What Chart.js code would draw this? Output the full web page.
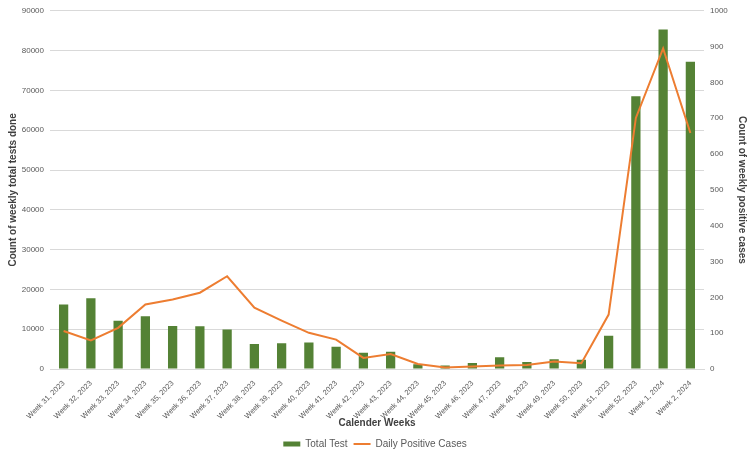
<!DOCTYPE html>
<html>
<head>
<meta charset="utf-8">
<script src="https://cdn.jsdelivr.net/npm/chart.js@4/dist/chart.umd.min.js"></script>
<style>
  html, body { margin: 0; padding: 0; background: #ffffff; }
  #wrap { width: 750px; height: 459px; }
</style>
</head>
<body>
<div id="wrap"><canvas id="grafico" width="750" height="459"></canvas></div>
<script>
// dados
const semanas = [
  "Week 31, 2023", "Week 32, 2023", "Week 33, 2023", "Week 34, 2023",
  "Week 35, 2023", "Week 36, 2023", "Week 37, 2023", "Week 38, 2023",
  "Week 39, 2023", "Week 40, 2023", "Week 41, 2023", "Week 42, 2023",
  "Week 43, 2023", "Week 44, 2023", "Week 45, 2023", "Week 46, 2023",
  "Week 47, 2023", "Week 48, 2023", "Week 49, 2023", "Week 50, 2023",
  "Week 51, 2023", "Week 52, 2023", "Week 1, 2024", "Week 2, 2024"
];
const totalTestes = [
  16200, 17800, 12100, 13250, 10800, 10750, 9900, 6300,
  6500, 6650, 5600, 4100, 4350, 1200, 850, 1500,
  2950, 1750, 2450, 2350, 8350, 68500, 85300, 77200
];
const casosPositivos = [
  106, 80, 115, 180, 194, 213, 259, 171,
  135, 101, 82, 31, 42, 14, 4, 7,
  10, 11, 21, 16, 152, 701, 895, 659
];

const FONTE = "'Liberation Sans', Arial, sans-serif";
const CINZA_TXT = "#595959";
const CINZA_TIT = "#404040";
const VERDE = "#548235";
const LARANJA = "#ED7D31";

const semSeparador = (v) => String(v);

const ctx = document.getElementById("grafico").getContext("2d");

new Chart(ctx, {
  data: {
    labels: semanas,
    datasets: [
      {
        type: "bar",
        label: "Total Test",
        data: totalTestes,
        backgroundColor: VERDE,
        yAxisID: "y",
        order: 2,
        categoryPercentage: 1,
        barPercentage: 0.34
      },
      {
        type: "line",
        label: "Daily Positive Cases",
        data: casosPositivos,
        borderColor: LARANJA,
        backgroundColor: LARANJA,
        borderWidth: 2,
        pointRadius: 0,
        tension: 0,
        yAxisID: "y1",
        order: 1
      }
    ]
  },
  options: {
    responsive: false,
    animation: false,
    layout: { padding: { top: 9, left: 0, right: 0, bottom: 0 } },
    plugins: {
      tooltip: { enabled: false },
      legend: {
        position: "bottom",
        labels: {
          font: { family: FONTE, size: 10 },
          color: CINZA_TXT,
          usePointStyle: true,
          pointStyleWidth: 17,
          boxHeight: 5,
          padding: 6,
          sort: (a, b) => a.datasetIndex - b.datasetIndex,
          generateLabels: (chart) => {
            const itens = Chart.defaults.plugins.legend.labels.generateLabels(chart);
            itens.forEach(it => {
              if (it.datasetIndex === 0) {
                it.pointStyle = "rect";
                it.fillStyle = VERDE;
                it.strokeStyle = VERDE;
                it.lineWidth = 0;
              } else {
                it.pointStyle = "line";
                it.strokeStyle = LARANJA;
                it.lineWidth = 2;
              }
            });
            return itens;
          }
        }
      }
    },
    scales: {
      x: {
        grid: { display: false },
        border: { display: true, color: "#d9d9d9" },
        ticks: {
          font: { family: FONTE, size: 7.5 },
          color: CINZA_TXT,
          minRotation: 45,
          maxRotation: 45,
          autoSkip: false,
          padding: 2
        },
        title: {
          display: true,
          text: "Calender Weeks",
          font: { family: FONTE, size: 10, weight: "bold" },
          color: CINZA_TIT,
          padding: { top: 0, bottom: 4 }
        },
        afterFit: (scale) => {
          const leg = scale.chart.legend ? scale.chart.legend.height : 30;
          scale.height = 459 - 369 - leg;
        }
      },
      y: {
        position: "left",
        min: 0,
        max: 90000,
        ticks: {
          stepSize: 10000,
          font: { family: FONTE, size: 8 },
          color: CINZA_TXT,
          padding: 6,
          callback: semSeparador
        },
        grid: { color: "#d9d9d9", drawTicks: false },
        border: { display: false },
        title: {
          display: true,
          text: "Count of weekly total tests done",
          font: { family: FONTE, size: 10, weight: "bold" },
          color: CINZA_TIT,
          padding: { top: 7, bottom: 0 }
        },
        afterFit: (scale) => { scale.width = 50; }
      },
      y1: {
        position: "right",
        min: 0,
        max: 1000,
        ticks: {
          stepSize: 100,
          font: { family: FONTE, size: 8 },
          color: CINZA_TXT,
          padding: 6,
          callback: semSeparador
        },
        grid: { display: false, drawTicks: false },
        border: { display: false },
        title: {
          display: true,
          text: "Count of weekly positive cases",
          font: { family: FONTE, size: 10, weight: "bold" },
          color: CINZA_TIT,
          padding: { top: 2, bottom: 0 }
        },
        afterFit: (scale) => { scale.width = 46; }
      }
    }
  }
});
</script>
</body>
</html>
